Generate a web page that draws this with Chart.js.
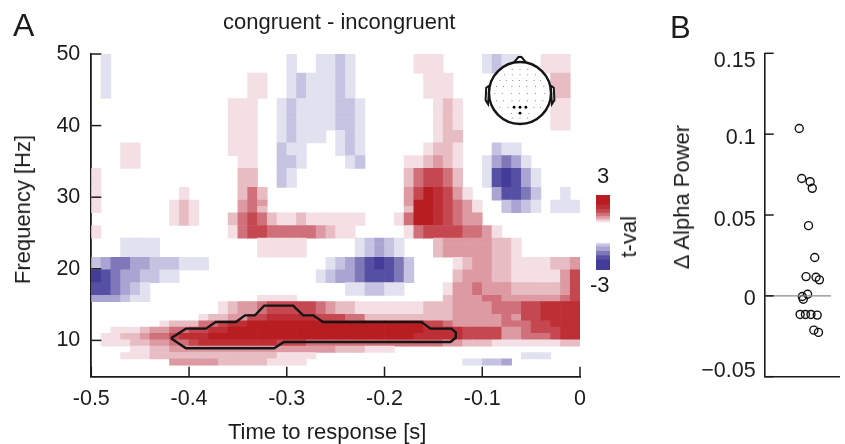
<!DOCTYPE html>
<html>
<head>
<meta charset="utf-8">
<script src="https://cdn.jsdelivr.net/npm/chart.js@4"></script>
<style>
  html, body { margin: 0; padding: 0; background: #fff; }
  #page { position: relative; width: 845px; height: 444px; overflow: hidden; font-family: "Liberation Sans", Arial, sans-serif; color: #1c1c1c; }
  canvas { position: absolute; }
  #mainChart { left: 0; top: 0; }
  #alphaChart { left: 700px; top: 0; }
  #colorbar { left: 596px; top: 195px; }
  #headInset { left: 478px; top: 51px; }
  .txt { position: absolute; white-space: nowrap; line-height: 1; font-size: 22px; will-change: transform; }
  .vert { writing-mode: vertical-rl; transform: rotate(180deg); }
</style>
</head>
<body>
<div id="page">
  <canvas id="mainChart" width="640" height="444"></canvas>
  <canvas id="alphaChart" width="145" height="444"></canvas>
  <canvas id="colorbar" width="14" height="75"></canvas>
  <canvas id="headInset" width="84" height="84"></canvas>

  <div class="txt" style="left:13px;top:9px;font-size:32px">A</div>
  <div class="txt" style="left:670px;top:12px;font-size:31px">B</div>
  <div class="txt" style="left:223px;top:11px">congruent - incongruent</div>
  <div class="txt" style="left:227.5px;top:421px">Time to response [s]</div>
  <div class="txt vert" style="left:11.5px;top:135px">Frequency [Hz]</div>
  <div class="txt vert" style="left:670.7px;top:125px">&Delta; Alpha Power</div>
  <div class="txt vert" style="left:618.4px;top:216px">t-val</div>
  <div class="txt" style="left:597px;top:165px">3</div>
  <div class="txt" style="left:590px;top:274px">-3</div>
</div>

<script>
// tick labels
const timeTicks = [-0.5, -0.4, -0.3, -0.2, -0.1, 0];
const freqTicks = [10, 20, 30, 40, 50];
const powerTicks = [-0.05, 0, 0.05, 0.1, 0.15];
const powerLabels = ['\u22120.05', '0', '0.05', '0.1', '0.15'];
// the labels of panel B do not sit exactly level with their ticks in the figure
const powerLabelNudge = [-5.2, 3.5, 5, 4, 7.4];

// heat map: one string per frequency row (top row first), 50 time bins per row.
// . = not significant, 1-7 = positive t (weak to strong), a-f = negative t (weak to strong)
const tRows = [
  ".a........ .......... a..aaba... ...111.... abaa..111.",
  ".a........ .......... a..aaba... ...111.... abaa..111.",
  ".a........ .......... a..aaba... ...111.... abaa..111.",
  ".a........ ......11.. abaaaba... ....111... .......22.",
  ".a........ ......11.. abaaaba... ....111... .......22.",
  ".a........ ......11.. abaaaba... ....111... .......22.",
  ".a........ ......11.. abaaaba... ....111... .......22.",
  ".......... ....111..a baaaabba.. .....121.. .......11.",
  ".......... ....111..a baaaabba.. .....121.. .......11.",
  ".......... ....111..a baaaabba.. .....121.. .......11.",
  ".......... ....111..a baaaabba.. .....121.. .......11.",
  ".......... ....111..a baaaabba.. .....121.. .......11.",
  ".......... ....111..a baaa.aba.. .....122.. ..........",
  ".......... ....111..a baaa.aba.. .....122.. ..........",
  "...11..... ....111..b aa...aba.. ....1221.. .baa......",
  "...11..... ....111..b aa...aba.. ....1221.. .baa......",
  "...11..... .....11..b ba....ab.. ..112321.. acdca.....",
  "...11..... .....11..b ba....ab.. ..112321.. acdca.....",
  "1......... .....22..b a......... ..245542.. aefeca....",
  "1......... .....22..b a......... ..245542.. aefeca....",
  "1......... .....22..b a......... ..245542.. aefeca....",
  "1........1 .....242.. .......... ..3576531. .ceedb..a.",
  "1........1 .....242.. .......... ..3576531. .ceedb..a.",
  "1.......12 1....343.. .......... ..37765431 ..bcba.aaa",
  "1.......12 1....342.. .......... ..27765431 ..bcba.aaa",
  "........12 1...245421 12111111.. .147765433 ..........",
  "........12 1...245421 12111111.. .147765433 ..........",
  "1......... ....145544 4443211... ..14555544 31........",
  "1......... ....145544 4443211... ..14555544 31........",
  "...aaaa... .......111 11.....abc ba...23333 3221......",
  "...aaaa... .......111 11.....abc ba...23333 3221......",
  "...aaaa... .......111 11.....abc ba...23333 3221......",
  "bcddccbbba aa........ ....abcdef edb....123 3221111223",
  "bcddccbbba aa........ ....abcdef edb....123 3221111223",
  "fedccbbaa. .......... ...abccdee edb....233 3221111135",
  "fedccbbaa. .......... ...abccdee edb....233 3221111135",
  "eedcba.... .......... ......aabb aa....1334 3332222235",
  "eedcba.... .......... ......aabb aa....1334 3332222235",
  "cccbaa.... .......111 1......... ......2333 4433333345",
  ".......... ...1233455 5554322111 1111222333 3444556666",
  ".......... ...1233455 5554322111 1111222333 3444556666",
  ".......... .122335566 6665554422 2222222333 3343556666",
  ".......122 2445667777 7777777777 7777554333 3344455666",
  "..11123344 5566777777 7777777777 7777666655 5533455566",
  ".112234456 6677777777 7777777777 7776666655 5533444566",
  ".111223344 5666666665 5544444444 4444443322 2111111122",
  "....112233 3333333333 3333322211 1......... ..........",
  "...1112222 2222222221 111....... .......... ....aaa...",
  "........33 3332222211 11........ ........aa bbc.......",
];

// significant cluster outline
const contourTimes = [-0.4185, -0.4032, -0.3827, -0.3728, -0.352, -0.3428, -0.3326, -0.3231, -0.2935, -0.2832, -0.273, -0.2628, -0.1622, -0.153, -0.1315, -0.1271, -0.1271, -0.1325, -0.303, -0.3129, -0.4032, -0.4185];
const contourFreqs = [10.3, 11.64, 11.64, 12.57, 12.57, 13.5, 13.5, 14.85, 14.85, 13.5, 13.5, 12.57, 12.57, 11.64, 11.64, 11.13, 10.38, 9.78, 9.78, 8.9, 8.9, 10.3];

// panel B subjects (horizontal position is only jitter)
const subjectJitter = [0.461, 0.494, 0.606, 0.635, 0.585, 0.668, 0.552, 0.685, 0.730, 0.573, 0.502, 0.515, 0.473, 0.544, 0.618, 0.701, 0.656, 0.718];
const alphaPower = [0.1035, 0.0726, 0.0706, 0.0665, 0.0434, 0.0237, 0.0119, 0.0115, 0.0099, 0.001, -0.0004, -0.0021, -0.0115, -0.0115, -0.0115, -0.0119, -0.0212, -0.0226];

// colour bar bands, top to bottom; nothing is drawn between +0.84 and -0.84
const barLevels = ['7', '6', '5', '4', '3', '2', '1', 'a', 'b', 'c', 'd', 'e', 'f'];
const barHighs = [3, 2.2, 1.85, 1.55, 1.3, 1.1, 0.95, -0.84, -0.95, -1.15, -1.5, -1.85, -2.2];
const barLows = [2.2, 1.85, 1.55, 1.3, 1.1, 0.95, 0.84, -0.95, -1.15, -1.5, -1.85, -2.2, -3];

// head inset
const sensorX = [-.25, 0, .25, -.5, -.25, 0, .25, .5, -.65, -.44, -.23, -.02, .21, .45, .66, -.76, -.53, -.26, -.02, .22, .5, .77, -.81, -.57, -.28, -.02, .24, .5, .8, -.76, -.53, -.26, -.02, .24, .5, .74, -.65, -.39, .45, .66, -.28, .29, -.23, 0, .24];
const sensorY = [.77, .77, .77, .59, .59, .59, .59, .59, .4, .4, .4, .4, .4, .4, .4, .21, .21, .21, .21, .21, .21, .21, -.02, -.02, -.02, -.02, -.02, -.02, -.02, -.25, -.25, -.25, -.25, -.25, -.25, -.25, -.46, -.46, -.46, -.46, -.65, -.65, -.81, -.81, -.81];
const clusterX = [-.19, 0, .19, 0];
const clusterY = [-.46, -.46, -.46, -.65];
const noseX = [-.2, -.05, .05, .2];
const noseY = [.98, 1.16, 1.16, .98];
const earX = [.99, 1.09, 1.11, 1.03, .99];
const earY = [.24, .17, -.23, -.36, .24];

const levelColors = {
    1: '#f4e0e4', 2: '#e8bcc3', 3: '#dd9aa2', 4: '#d0707a', 5: '#c5474f', 6: '#bd2f35', 7: '#b81d22',
    a: '#e2e1f0', b: '#c6c3e2', c: '#a9a4d2', d: '#7f78b8', e: '#5650a5', f: '#443c98'
};

const INK = '#1c1c1c';
const FONT = '"Liberation Sans", Arial, sans-serif';
const ROW_HZ = 0.887; // height of one frequency bin
const BIN_S = 0.01;   // width of one time bin

Chart.defaults.animation = false;
Chart.defaults.responsive = false;
Chart.defaults.font.family = FONT;
Chart.defaults.plugins.legend.display = false;
Chart.defaults.plugins.tooltip.enabled = false;

// ticks in this figure point into the plot, which chart.js does not do by itself
const inwardTicks = {
    id: 'inwardTicks',
    afterDatasetsDraw(chart, args, opts) {
        const { ctx, chartArea } = chart;
        ctx.save();
        ctx.strokeStyle = INK;
        ctx.lineWidth = 1.5;
        (opts.axes || []).forEach(id => {
            const scale = chart.scales[id];
            scale.ticks.forEach(t => {
                const p = scale.getPixelForValue(t.value);
                ctx.beginPath();
                if (scale.isHorizontal()) {
                    ctx.moveTo(p, chartArea.bottom);
                    ctx.lineTo(p, chartArea.bottom - opts.length);
                } else {
                    ctx.moveTo(chartArea.left, p);
                    ctx.lineTo(chartArea.left + opts.length, p);
                }
                ctx.stroke();
            });
        });
        ctx.restore();
    }
};

// panel B labels, placed from the scale plus the small offset seen in the figure
const nudgedLabels = {
    id: 'nudgedLabels',
    afterDraw(chart) {
        const { ctx, chartArea, scales } = chart;
        ctx.save();
        ctx.fillStyle = INK;
        ctx.font = '21.5px ' + FONT;
        ctx.textAlign = 'right';
        ctx.textBaseline = 'middle';
        powerTicks.forEach((v, i) => {
            ctx.fillText(powerLabels[i], chartArea.left - 9, scales.y.getPixelForValue(v) + powerLabelNudge[i]);
        });
        ctx.restore();
    }
};

function fixedTicks(values) {
    return scale => { scale.ticks = values.map(v => ({ value: v })); };
}

function heatCells() {
    const cells = [];
    tRows.forEach((row, r) => {
        row.replace(/ /g, '').split('').forEach((level, c) => {
            if (level === '.') return;
            cells.push({
                x: -0.5 + (c + 0.5) * BIN_S,
                y: [50 - (r + 1) * ROW_HZ, 50 - r * ROW_HZ],
                level
            });
        });
    });
    return cells;
}

function initMain() {
    const cells = heatCells();
    new Chart(document.getElementById('mainChart'), {
        type: 'bar',
        data: {
            datasets: [
                {
                    label: 't-val',
                    data: cells,
                    order: 2,
                    grouped: false,
                    barThickness: 9.78,
                    backgroundColor: cells.map(d => levelColors[d.level])
                },
                {
                    type: 'line',
                    label: 'cluster',
                    order: 1,
                    data: contourTimes.map((t, i) => ({ x: t, y: contourFreqs[i] })),
                    borderColor: '#151515',
                    borderWidth: 2.4,
                    pointRadius: 0,
                    tension: 0
                }
            ]
        },
        plugins: [inwardTicks],
        options: {
            layout: { padding: { top: 54, right: 60 } },
            plugins: { inwardTicks: { axes: ['x', 'y'], length: 10 } },
            scales: {
                x: {
                    type: 'linear',
                    offset: false,
                    min: -0.5,
                    max: 0,
                    afterBuildTicks: fixedTicks(timeTicks),
                    afterFit: s => { s.height = 67.3; },
                    grid: { display: false, drawTicks: false },
                    border: { color: INK, width: 1.8 },
                    ticks: {
                        color: INK, font: { size: 21.5 }, padding: 9, maxRotation: 0,
                        callback: v => (v === 0 ? '0' : v.toFixed(1))
                    }
                },
                y: {
                    type: 'linear',
                    min: 4.93,
                    max: 50,
                    afterBuildTicks: fixedTicks(freqTicks),
                    afterFit: s => { s.width = 91.3; },
                    grid: { display: false, drawTicks: false },
                    border: { color: INK, width: 1.8 },
                    ticks: { color: INK, font: { size: 21.5 }, padding: 11 }
                }
            }
        }
    });
}

function initAlpha() {
    new Chart(document.getElementById('alphaChart'), {
        type: 'scatter',
        data: {
            datasets: [
                {
                    label: 'zero',
                    data: [{ x: 0, y: 0 }, { x: 0.884, y: 0 }],
                    showLine: true,
                    borderColor: '#8a8a8a',
                    borderWidth: 1.2,
                    pointRadius: 0
                },
                {
                    label: 'subjects',
                    data: subjectJitter.map((x, i) => ({ x, y: alphaPower[i] })),
                    pointRadius: 4,
                    pointBorderWidth: 1.4,
                    pointBorderColor: '#111',
                    pointBackgroundColor: 'rgba(0,0,0,0)'
                }
            ]
        },
        plugins: [inwardTicks, nudgedLabels],
        options: {
            layout: { padding: { top: 53.3 } },
            plugins: { inwardTicks: { axes: ['y'], length: 9 } },
            scales: {
                x: {
                    type: 'linear',
                    min: 0,
                    max: 1,
                    afterFit: s => { s.height = 67.3; },
                    grid: { display: false, drawTicks: false },
                    border: { color: INK, width: 1.6 },
                    ticks: { display: false }
                },
                y: {
                    type: 'linear',
                    min: -0.05,
                    max: 0.15,
                    afterBuildTicks: fixedTicks(powerTicks),
                    afterFit: s => { s.width = 64.7; },
                    grid: { display: false, drawTicks: false },
                    border: { color: INK, width: 1.6 },
                    ticks: { display: false }
                }
            }
        }
    });
}

function initColorbar() {
    new Chart(document.getElementById('colorbar'), {
        type: 'bar',
        data: {
            datasets: [{
                data: barLevels.map((l, i) => ({ x: 0, y: [barLows[i], barHighs[i]] })),
                grouped: false,
                barThickness: 14,
                backgroundColor: barLevels.map(l => levelColors[l])
            }]
        },
        options: {
            layout: { padding: 0 },
            scales: {
                x: { type: 'linear', min: -1, max: 1, display: false, offset: false },
                y: { type: 'linear', min: -3, max: 3, display: false }
            }
        }
    });
}

function initHead() {
    const toPoints = (xs, ys, sign = 1) => xs.map((x, i) => ({ x: sign * x, y: ys[i] }));
    const outline = data => ({
        type: 'line', data, borderColor: '#151515', borderWidth: 2, pointRadius: 0,
        fill: 'shape', backgroundColor: '#fff', tension: 0
    });
    new Chart(document.getElementById('headInset'), {
        type: 'scatter',
        data: {
            datasets: [
                { data: toPoints(clusterX, clusterY), pointRadius: 1.4, pointBackgroundColor: '#000', pointBorderWidth: 0, order: 1 },
                { data: toPoints(sensorX, sensorY), pointRadius: 0.5, pointBackgroundColor: '#666', pointBorderWidth: 0, order: 2 },
                { data: [{ x: 0, y: 0 }], pointRadius: 31, pointBackgroundColor: '#fff', pointBorderColor: '#151515', pointBorderWidth: 2.4, order: 3 },
                Object.assign(outline(toPoints(noseX, noseY)), { order: 4 }),
                Object.assign(outline(toPoints(earX, earY)), { order: 4 }),
                Object.assign(outline(toPoints(earX, earY, -1)), { order: 4 })
            ]
        },
        options: {
            layout: { padding: 0, autoPadding: false },
            scales: {
                x: { type: 'linear', min: -1.355, max: 1.355, display: false },
                y: { type: 'linear', min: -1.355, max: 1.355, display: false }
            }
        }
    });
}

initMain();
initAlpha();
initColorbar();
initHead();
</script>
</body>
</html>
